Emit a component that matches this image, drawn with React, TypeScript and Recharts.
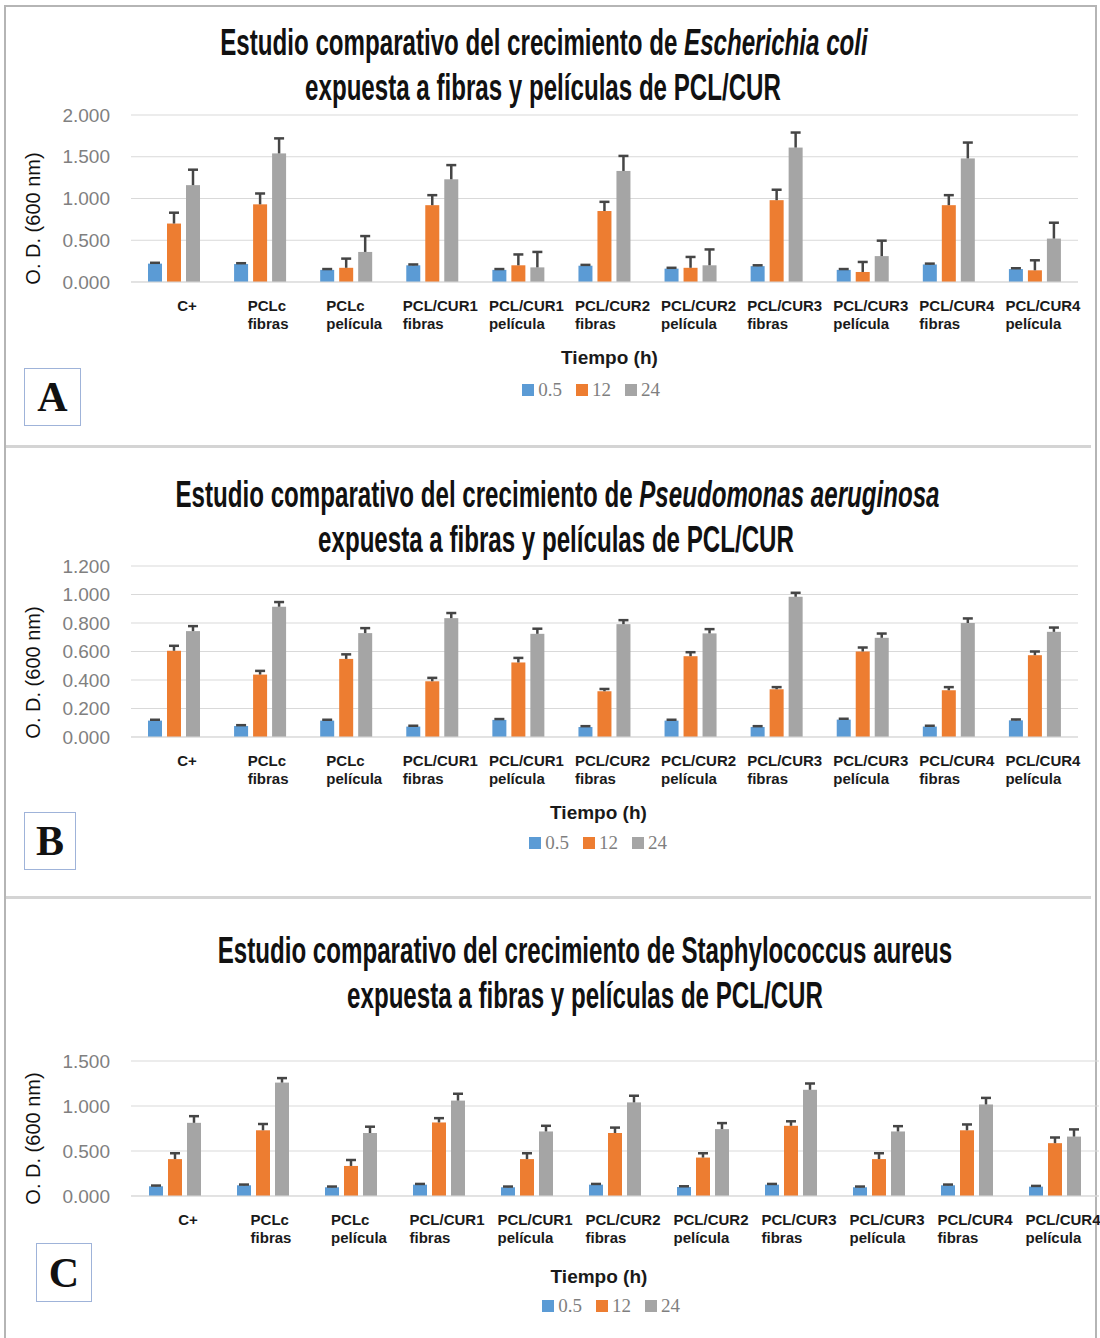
import React from "react";
import { BarChart, Bar, XAxis, YAxis, CartesianGrid, Legend } from "recharts";

const categories = [
  "C+",
  "PCLc fibras",
  "PCLc película",
  "PCL/CUR1 fibras",
  "PCL/CUR1 película",
  "PCL/CUR2 fibras",
  "PCL/CUR2 película",
  "PCL/CUR3 fibras",
  "PCL/CUR3 película",
  "PCL/CUR4 fibras",
  "PCL/CUR4 película",
];

const seriesNames = ["0.5", "12", "24"];
const seriesColors = ["#5B9BD5", "#ED7D31", "#A5A5A5"];

// E. coli
const ecoli05 = [0.22, 0.215, 0.145, 0.2, 0.145, 0.195, 0.16, 0.19, 0.145, 0.21, 0.155];
const ecoli12 = [0.7, 0.93, 0.17, 0.92, 0.2, 0.85, 0.17, 0.98, 0.12, 0.92, 0.14];
const ecoli24 = [1.16, 1.54, 0.36, 1.23, 0.175, 1.33, 0.2, 1.61, 0.31, 1.48, 0.52];
const ecoliErr05 = [0.01, 0.01, 0.01, 0.01, 0.01, 0.01, 0.01, 0.01, 0.01, 0.01, 0.01];
const ecoliErr12 = [0.13, 0.13, 0.11, 0.12, 0.13, 0.11, 0.13, 0.125, 0.12, 0.12, 0.12];
const ecoliErr24 = [0.185, 0.18, 0.19, 0.17, 0.185, 0.18, 0.19, 0.18, 0.185, 0.19, 0.19];

// P. aeruginosa
const pseudo05 = [0.115, 0.077, 0.115, 0.073, 0.12, 0.07, 0.115, 0.07, 0.122, 0.073, 0.117];
const pseudo12 = [0.605, 0.438, 0.548, 0.391, 0.523, 0.321, 0.567, 0.335, 0.6, 0.328, 0.574];
const pseudo24 = [0.743, 0.914, 0.729, 0.834, 0.724, 0.792, 0.727, 0.984, 0.696, 0.8, 0.738];
const pseudoErr05 = [0.006, 0.006, 0.006, 0.006, 0.006, 0.006, 0.006, 0.006, 0.006, 0.006, 0.006];
const pseudoErr12 = [0.035, 0.026, 0.032, 0.024, 0.032, 0.016, 0.028, 0.015, 0.028, 0.022, 0.026];
const pseudoErr24 = [0.035, 0.033, 0.035, 0.036, 0.036, 0.028, 0.03, 0.028, 0.03, 0.032, 0.03];

// S. aureus
const staph05 = [0.108, 0.119, 0.097, 0.126, 0.097, 0.126, 0.1, 0.126, 0.097, 0.119, 0.104];
const staph12 = [0.41, 0.73, 0.334, 0.817, 0.41, 0.7, 0.427, 0.78, 0.41, 0.73, 0.587];
const staph24 = [0.813, 1.26, 0.7, 1.06, 0.717, 1.04, 0.743, 1.18, 0.717, 1.017, 0.66];
const staphErr05 = [0.008, 0.008, 0.008, 0.008, 0.008, 0.008, 0.008, 0.008, 0.008, 0.008, 0.008];
const staphErr12 = [0.065, 0.07, 0.066, 0.048, 0.065, 0.06, 0.048, 0.05, 0.065, 0.065, 0.063];
const staphErr24 = [0.074, 0.05, 0.07, 0.076, 0.063, 0.074, 0.067, 0.07, 0.059, 0.073, 0.08];

const ecoliTicks = [0, 0.5, 1, 1.5, 2];
const pseudoTicks = [0, 0.2, 0.4, 0.6, 0.8, 1, 1.2];
const staphTicks = [0, 0.5, 1, 1.5];

function buildRows(v05: number[], v12: number[], v24: number[], e05: number[], e12: number[], e24: number[]) {
  return categories.map((name, i) => ({
    name,
    v05: v05[i],
    v12: v12[i],
    v24: v24[i],
    e05: e05[i],
    e12: e12[i],
    e24: e24[i],
  }));
}

let measureCtx: CanvasRenderingContext2D | null = null;
function textWidth(s: string, font: string) {
  if (!measureCtx) measureCtx = document.createElement("canvas").getContext("2d");
  if (!measureCtx) return s.length * 9;
  measureCtx.font = font;
  return measureCtx.measureText(s).width;
}

const TICK_FONT = "bold 15px 'Liberation Sans', Arial, sans-serif";

function CategoryTick(props: any) {
  const { x, y, payload } = props;
  const lines: string[] = String(payload.value).split(" ");
  const w = Math.max(...lines.map((l) => textWidth(l, TICK_FONT)));
  const left = lines.length === 1 ? x - w / 2 + 13 : x - w / 2 + 8;
  return (
    <g>
      {lines.map((l, i) => (
        <text
          key={i}
          x={left}
          y={y + 23 + i * 18}
          dominantBaseline="central"
          style={{ font: TICK_FONT }}
          fill="#1a1a1a"
        >
          {l}
        </text>
      ))}
    </g>
  );
}

function YTitle(props: any) {
  const { viewBox, dy } = props;
  const cx = 33;
  const cy = viewBox.y + viewBox.height / 2 + dy;
  return (
    <text
      x={cx}
      y={cy}
      transform={`rotate(-90 ${cx} ${cy})`}
      textAnchor="middle"
      dominantBaseline="central"
      style={{ fontFamily: "'Liberation Sans', Arial, sans-serif", fontSize: 20 }}
      fill="#111"
    >
      O. D. (600 nm)
    </text>
  );
}

function errShape(errKey: string) {
  return (props: any) => {
    const { x, y, width, height, fill, payload, value } = props;
    const v = Array.isArray(value) ? value[1] - value[0] : value;
    const err = payload[errKey];
    const k = v > 0 ? height / v : 0;
    const top = y - err * k;
    const cx = x + width / 2;
    return (
      <g>
        <rect x={x} y={y} width={width} height={height} fill={fill} />
        <line x1={cx} x2={cx} y1={y} y2={top} stroke="#454545" strokeWidth={2.5} />
        <line x1={cx - 5} x2={cx + 5} y1={top} y2={top} stroke="#454545" strokeWidth={2.5} />
      </g>
    );
  };
}

function LegendContent(props: any) {
  const { payload, shift } = props;
  return (
    <div style={{ display: "flex", justifyContent: "center", transform: `translateX(${shift}px)` }}>
      {(payload || []).map((p: any, i: number) => (
        <div key={i} style={{ display: "flex", alignItems: "center", marginRight: 14, height: 24 }}>
          <span style={{ width: 12, height: 12, background: p.color, display: "inline-block", marginRight: 4 }} />
          <span style={{ fontFamily: "'Liberation Serif', 'Times New Roman', serif", fontSize: 19, color: "#7f7f7f" }}>
            {p.value}
          </span>
        </div>
      ))}
    </div>
  );
}

type PanelProps = {
  top: number;
  height: number;
  marginTop: number;
  marginRight: number;
  xAxisHeight: number;
  labelOffset: number;
  labelDx: number;
  yLabelDy: number;
  legendShift: number;
  ticks: number[];
  rows: ReturnType<typeof buildRows>;
};

function Panel(p: PanelProps) {
  const max = p.ticks[p.ticks.length - 1];
  return (
    <div style={{ position: "absolute", left: 0, top: p.top }}>
      <BarChart
        width={1100}
        height={p.height}
        data={p.rows}
        margin={{ top: p.marginTop, right: p.marginRight, left: 0, bottom: 4 }}
        barSize={14}
        barGap={5}
      >
        <CartesianGrid vertical={false} stroke="#d9d9d9" />
        <XAxis
          dataKey="name"
          interval={0}
          tickLine={false}
          tickSize={0}
          tickMargin={0}
          axisLine={{ stroke: "#d9d9d9" }}
          height={p.xAxisHeight}
          tick={<CategoryTick />}
          label={{
            value: "Tiempo (h)",
            position: "insideBottom",
            offset: p.labelOffset,
            dx: p.labelDx,
            style: { fontFamily: "'Liberation Sans', Arial, sans-serif", fontSize: 19, fontWeight: "bold", fill: "#1a1a1a" },
          }}
        />
        <YAxis
          width={131}
          domain={[0, max]}
          ticks={p.ticks}
          axisLine={false}
          tickLine={false}
          tickMargin={15}
          tickFormatter={(v: number) => v.toFixed(3)}
          tick={{ fontFamily: "'Liberation Sans', Arial, sans-serif", fontSize: 19, fill: "#808080" }}
          label={<YTitle dy={p.yLabelDy} />}
        />
        <Legend
          verticalAlign="bottom"
          height={24}
          wrapperStyle={{ left: 0, width: 1100 }}
          content={<LegendContent shift={p.legendShift} />}
        />
        {["v05", "v12", "v24"].map((k, i) => (
          <Bar
            key={k}
            dataKey={k}
            name={seriesNames[i]}
            fill={seriesColors[i]}
            isAnimationActive={false}
            shape={errShape(["e05", "e12", "e24"][i])}
          />
        ))}
      </BarChart>
    </div>
  );
}

const titleStyle: React.CSSProperties = {
  position: "absolute",
  left: 0,
  width: 1100,
  textAlign: "center",
  fontFamily: "'Liberation Sans', Arial, sans-serif",
  fontWeight: "bold",
  fontSize: 36,
  color: "#111",
  lineHeight: "45px",
  whiteSpace: "nowrap",
  transformOrigin: "550px 50%",
};

function Title({ top, shift, children }: { top: number; shift: number; children: React.ReactNode }) {
  return (
    <div style={{ ...titleStyle, top, transform: `translateX(${shift}px) scaleX(0.67)` }}>{children}</div>
  );
}

function LetterBox({ x, y, w, h, letter }: { x: number; y: number; w: number; h: number; letter: string }) {
  return (
    <div
      style={{
        position: "absolute",
        left: x,
        top: y,
        width: w,
        height: h,
        boxSizing: "border-box",
        border: "1px solid #9fb3d9",
        display: "flex",
        alignItems: "center",
        justifyContent: "center",
        fontFamily: "'Liberation Serif', 'Times New Roman', serif",
        fontWeight: "bold",
        fontSize: 42,
        color: "#111",
        background: "#fff",
      }}
    >
      {letter}
    </div>
  );
}

export default function App() {
  const ecoliRows = buildRows(ecoli05, ecoli12, ecoli24, ecoliErr05, ecoliErr12, ecoliErr24);
  const pseudoRows = buildRows(pseudo05, pseudo12, pseudo24, pseudoErr05, pseudoErr12, pseudoErr24);
  const staphRows = buildRows(staph05, staph12, staph24, staphErr05, staphErr12, staphErr24);
  const line2 = "expuesta a fibras y películas de PCL/CUR";
  return (
    <div style={{ position: "absolute", left: 0, top: 0, width: 1100, height: 1338, background: "#fff", overflow: "hidden" }}>
      <div
        style={{
          position: "absolute",
          left: 4,
          top: 5,
          width: 1093,
          height: 1340,
          boxSizing: "border-box",
          border: "2px solid #b5b5b5",
        }}
      />
      <div style={{ position: "absolute", left: 6, top: 445, width: 1085, height: 3, background: "#d4d4d4" }} />
      <div style={{ position: "absolute", left: 6, top: 896, width: 1085, height: 3, background: "#d4d4d4" }} />

      <Title top={20} shift={-6}>
        Estudio comparativo del crecimiento de <i>Escherichia coli</i>
      </Title>
      <Title top={65} shift={-7}>{line2}</Title>
      <Panel
        top={100}
        height={306}
        marginTop={15}
        marginRight={22}
        xAxisHeight={96}
        labelOffset={14}
        labelDx={5}
        yLabelDy={20}
        legendShift={48}
        ticks={ecoliTicks}
        rows={ecoliRows}
      />
      <LetterBox x={24} y={368} w={57} h={58} letter="A" />

      <Title top={472} shift={-6}>
        Estudio comparativo del crecimiento de <i>Pseudomonas aeruginosa</i>
      </Title>
      <Title top={517} shift={6}>{line2}</Title>
      <Panel
        top={550}
        height={309}
        marginTop={16}
        marginRight={22}
        xAxisHeight={94}
        labelOffset={12}
        labelDx={-6}
        yLabelDy={21}
        legendShift={55}
        ticks={pseudoTicks}
        rows={pseudoRows}
      />
      <LetterBox x={24} y={812} w={52} h={58} letter="B" />

      <Title top={928} shift={35}>
        Estudio comparativo del crecimiento de Staphylococcus aureus
      </Title>
      <Title top={973} shift={35}>{line2}</Title>
      <Panel
        top={1040}
        height={282}
        marginTop={21}
        marginRight={1}
        xAxisHeight={98}
        labelOffset={11}
        labelDx={-16}
        yLabelDy={10}
        legendShift={68}
        ticks={staphTicks}
        rows={staphRows}
      />
      <LetterBox x={36} y={1243} w={56} h={59} letter="C" />
    </div>
  );
}
